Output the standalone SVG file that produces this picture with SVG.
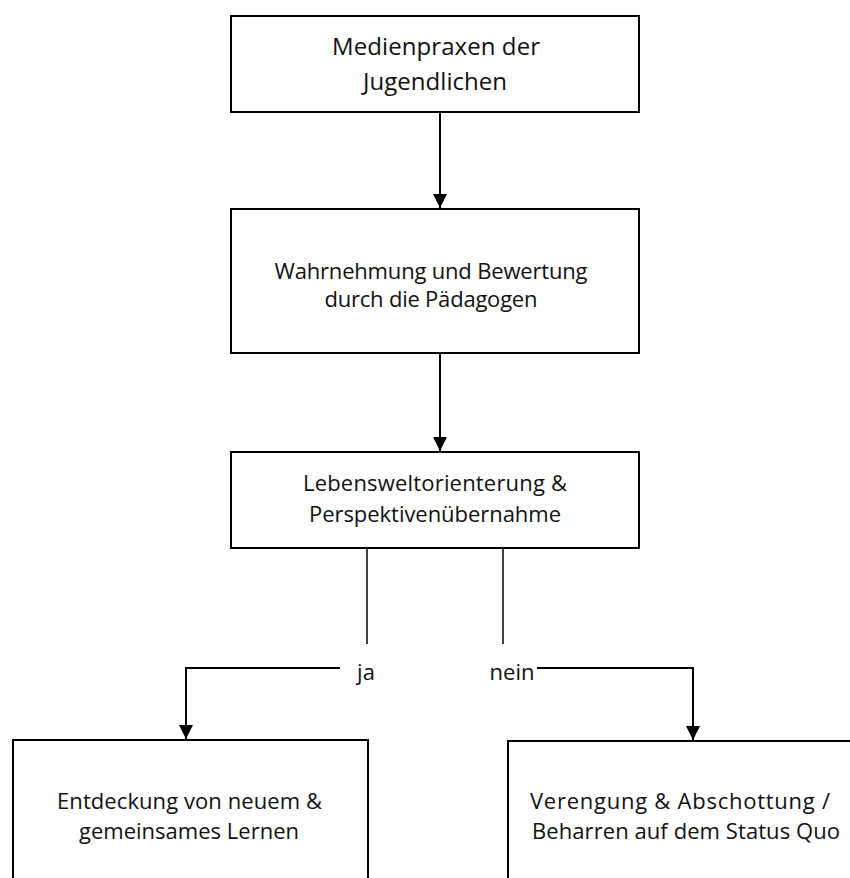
<svg xmlns="http://www.w3.org/2000/svg" width="850" height="878" viewBox="0 0 850 878">
<style>
.box{fill:#fff;stroke:#000;stroke-width:2}
.t{font-family:"Open Sans","Noto Sans","Liberation Sans",sans-serif;font-size:22px;fill:#111;text-anchor:middle}
.tl{font-size:24px}
.c{fill:none;stroke:#000;stroke-width:2}
.s{fill:none;stroke:#000;stroke-width:1.5}
</style>
<defs>
<marker id="ah" markerUnits="userSpaceOnUse" markerWidth="15" markerHeight="15" refX="14" refY="7" orient="auto">
<path d="M0,0 L14,7 L0,14 z" fill="#000"/>
</marker>
</defs>
<rect width="850" height="878" fill="#fff"/>
<g id="connectors">
<line class="c" x1="440" y1="112" x2="440" y2="208" marker-end="url(#ah)"/>
<line class="c" x1="440" y1="353" x2="440" y2="451" marker-end="url(#ah)"/>
<line class="s" x1="367" y1="546" x2="367" y2="644"/>
<line class="s" x1="503" y1="546" x2="503" y2="644"/>
<polyline class="c" points="340,668 186,668 186,739" marker-end="url(#ah)"/>
<polyline class="c" points="537,668 693,668 693,740" marker-end="url(#ah)"/>
<text class="t" x="366" y="680">ja</text>
<text class="t" x="512" y="680">nein</text>
</g>
<g id="node1">
<rect class="box" x="231" y="16" width="408" height="96"/>
<text class="t tl" x="436" y="55" textLength="208">Medienpraxen der</text>
<text class="t tl" x="435" y="90" textLength="144">Jugendlichen</text>
</g>
<g id="node2">
<rect class="box" x="231" y="209" width="408" height="144"/>
<text class="t" x="431" y="279" textLength="313">Wahrnehmung und Bewertung</text>
<text class="t" x="431" y="307" textLength="213">durch die Pädagogen</text>
</g>
<g id="node3">
<rect class="box" x="231" y="452" width="408" height="96"/>
<text class="t" x="435" y="491" textLength="264">Lebensweltorienterung &amp;</text>
<text class="t" x="435" y="522" textLength="252">Perspektivenübernahme</text>
</g>
<g id="node4">
<rect class="box" x="13" y="740" width="355" height="160"/>
<text class="t" x="189.5" y="809" textLength="265">Entdeckung von neuem &amp;</text>
<text class="t" x="189" y="839" textLength="220">gemeinsames Lernen</text>
</g>
<g id="node5">
<rect class="box" x="508" y="741" width="360" height="160"/>
<text class="t" x="680" y="809" textLength="300">Verengung &amp; Abschottung /</text>
<text class="t" x="686" y="839" textLength="308">Beharren auf dem Status Quo</text>
</g>
</svg>
